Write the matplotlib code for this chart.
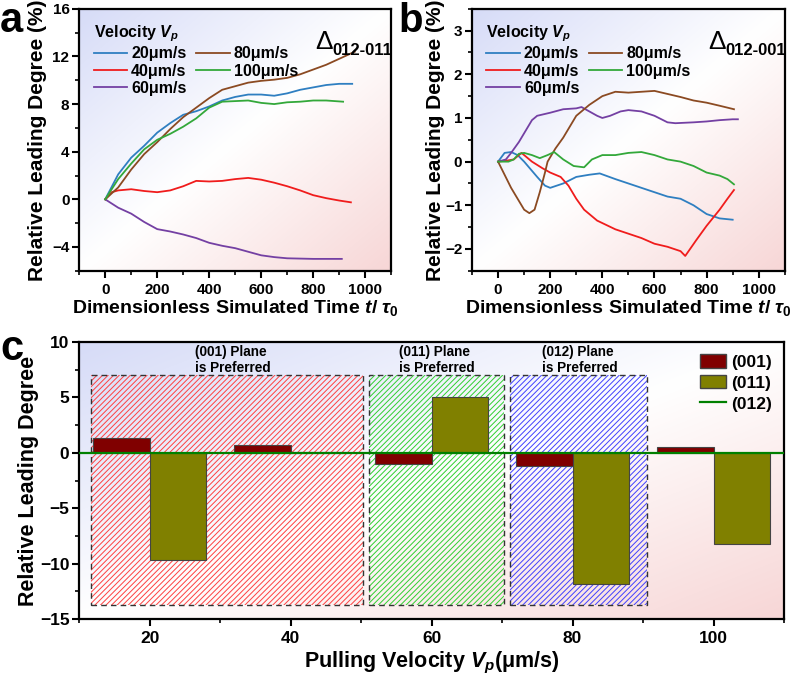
import numpy as np
import matplotlib
matplotlib.use("Agg")
import matplotlib.pyplot as plt
from matplotlib.patches import Rectangle, Patch
from matplotlib.lines import Line2D
from matplotlib.ticker import MultipleLocator

plt.rcParams["font.family"] = ["Liberation Sans", "DejaVu Sans"]
plt.rcParams["font.weight"] = "bold"
plt.rcParams["mathtext.fontset"] = "custom"
plt.rcParams["mathtext.rm"] = "Liberation Sans:bold"
plt.rcParams["mathtext.bf"] = "Liberation Sans:bold"
plt.rcParams["mathtext.it"] = "Liberation Sans:bold:italic"
plt.rcParams["hatch.linewidth"] = 0.7

# ---------------------------------------------------------------------------
# Data
# ---------------------------------------------------------------------------
labels_v = ["20μm/s", "40μm/s", "60μm/s", "80μm/s", "100μm/s"]
colors_v = ["#2f7fc1", "#f01c1c", "#7440a3", "#8b4a22", "#33a83a"]

# panel a : Delta 012-011
a20_x = [0, 50, 100, 150, 200, 250, 300, 350, 400, 450, 500, 550, 600, 650, 700, 750, 800, 850, 900, 950]
a20_y = [0, 2.1, 3.5, 4.5, 5.6, 6.4, 7.1, 7.4, 7.8, 8.3, 8.6, 8.8, 8.8, 8.7, 8.9, 9.2, 9.4, 9.6, 9.7, 9.7]
a40_x = [0, 25, 50, 100, 150, 200, 250, 300, 350, 400, 450, 500, 550, 600, 650, 700, 750, 800, 850, 900, 945]
a40_y = [0, 0.6, 0.75, 0.85, 0.7, 0.6, 0.75, 1.1, 1.55, 1.5, 1.55, 1.7, 1.8, 1.65, 1.4, 1.1, 0.75, 0.35, 0.1, -0.1, -0.25]
a60_x = [0, 50, 100, 150, 200, 250, 300, 350, 400, 450, 500, 550, 600, 650, 700, 800, 910]
a60_y = [0, -0.7, -1.2, -1.9, -2.5, -2.7, -2.95, -3.25, -3.65, -3.9, -4.1, -4.4, -4.7, -4.85, -4.95, -5.0, -5.0]
a80_x = [0, 50, 100, 150, 200, 250, 300, 350, 400, 450, 500, 550, 600, 650, 700, 750, 800, 850, 900, 960]
a80_y = [0, 1.0, 2.5, 3.8, 4.8, 5.9, 6.9, 7.7, 8.5, 9.2, 9.5, 9.8, 9.95, 10.05, 10.2, 10.5, 10.9, 11.3, 11.8, 12.4]
a100_x = [0, 50, 100, 150, 200, 250, 300, 350, 400, 450, 500, 550, 600, 650, 700, 750, 800, 850, 915]
a100_y = [0, 1.7, 3.0, 4.2, 5.0, 5.5, 6.1, 6.8, 7.7, 8.2, 8.25, 8.3, 8.1, 8.0, 8.15, 8.2, 8.3, 8.3, 8.2]

# panel b : Delta 012-001
b20_x = [0, 25, 50, 75, 100, 150, 180, 200, 250, 300, 350, 390, 450, 500, 550, 600, 650, 700, 750, 800, 850, 900]
b20_y = [0, 0.2, 0.22, 0.15, 0.0, -0.35, -0.55, -0.6, -0.5, -0.35, -0.3, -0.27, -0.4, -0.5, -0.6, -0.7, -0.8, -0.85, -1.0, -1.2, -1.3, -1.33]
b40_x = [0, 30, 60, 90, 130, 170, 200, 240, 270, 300, 330, 380, 450, 500, 550, 600, 650, 700, 718, 760, 800, 850, 880, 905]
b40_y = [0, 0.02, 0.05, 0.2, 0.0, -0.15, -0.25, -0.35, -0.55, -0.85, -1.1, -1.35, -1.55, -1.65, -1.75, -1.88, -1.95, -2.05, -2.16, -1.8, -1.47, -1.1, -0.85, -0.65]
b60_x = [0, 30, 50, 80, 100, 130, 150, 200, 250, 300, 320, 350, 380, 400, 430, 470, 500, 550, 600, 650, 680, 750, 800, 850, 900, 920]
b60_y = [0, 0.05, 0.2, 0.45, 0.65, 0.95, 1.05, 1.12, 1.2, 1.22, 1.25, 1.15, 1.05, 1.0, 1.05, 1.15, 1.18, 1.15, 1.05, 0.9, 0.88, 0.9, 0.92, 0.95, 0.97, 0.97]
b80_x = [0, 25, 50, 80, 100, 120, 140, 160, 180, 190, 220, 250, 300, 350, 400, 450, 500, 550, 600, 650, 700, 750, 800, 850, 905]
b80_y = [0, -0.3, -0.6, -0.9, -1.1, -1.18, -1.1, -0.7, -0.25, 0.0, 0.3, 0.55, 1.05, 1.3, 1.5, 1.6, 1.58, 1.6, 1.62, 1.55, 1.48, 1.4, 1.35, 1.28, 1.2]
b100_x = [0, 40, 60, 80, 100, 130, 160, 190, 215, 250, 290, 330, 360, 400, 450, 500, 550, 600, 650, 700, 750, 800, 850, 880, 905]
b100_y = [0, 0.0, 0.05, 0.18, 0.2, 0.15, 0.08, 0.15, 0.22, 0.05, -0.1, -0.13, 0.05, 0.15, 0.15, 0.2, 0.22, 0.15, 0.05, 0.0, -0.1, -0.25, -0.32, -0.4, -0.52]

# panel c : bars
velocity = [20, 40, 60, 80, 100]
lead_001 = [1.32, 0.67, -0.99, -1.23, 0.54]
lead_011 = [-9.64, 0.1, 5.07, -11.83, -8.22]

# preferred-plane regions: (x0, x1, y0, y1, colour, text, text x)
regions = [
    (11.7, 50.3, -13.7, 7.0, "#ff4040", "(001) Plane\nis Preferred", 26.4),
    (51.1, 70.3, -13.7, 7.0, "#30d030", "(011) Plane\nis Preferred", 55.4),
    (71.1, 90.5, -13.7, 7.0, "#4040ff", "(012) Plane\nis Preferred", 75.6),
]


def gradient_bg(ax):
    n = 200
    xx, yy = np.meshgrid(np.linspace(0, 1, n), np.linspace(1, 0, n))
    t = (xx + (1 - yy)) / 2.0          # 0 top-left -> 1 bottom-right
    blue = np.array([0.84, 0.86, 0.97])
    white = np.array([1.0, 1.0, 1.0])
    pink = np.array([0.97, 0.84, 0.84])
    lo = np.clip(1 - t / 0.5, 0, 1)[..., None]
    hi = np.clip((t - 0.5) / 0.5, 0, 1)[..., None]
    mid = 1 - lo - hi
    img = lo * blue + mid * white + hi * pink
    ax.imshow(img, extent=[0, 1, 0, 1], transform=ax.transAxes,
              aspect="auto", zorder=0, interpolation="bilinear")


def style_axes(ax, size):
    for s in ax.spines.values():
        s.set_linewidth(1.6)
    ax.tick_params(which="major", direction="out", length=5, width=1.5, labelsize=size)
    ax.tick_params(which="minor", direction="out", length=3, width=1.2)
    ax.tick_params(axis="y", which="major", pad=2)
    for lab in ax.get_xticklabels() + ax.get_yticklabels():
        lab.set_fontweight("bold")


def delta_label(ax, sub):
    d = ax.text(0.755, 0.875, "Δ", transform=ax.transAxes, fontsize=19,
                fontweight="normal", ha="left", va="center", zorder=5)
    ax.annotate(sub, xy=(1.0, 0.12), xycoords=d, fontsize=12,
                fontweight="bold", ha="left", va="center", zorder=5)


fig = plt.figure(figsize=(8.0, 6.77), dpi=100)

ax_a = fig.add_axes([0.099, 0.600, 0.390, 0.387])
ax_b = fig.add_axes([0.590, 0.600, 0.391, 0.387])
ax_c = fig.add_axes([0.099, 0.0857, 0.881, 0.409])

series_a = [(a20_x, a20_y), (a40_x, a40_y), (a60_x, a60_y), (a80_x, a80_y), (a100_x, a100_y)]
series_b = [(b20_x, b20_y), (b40_x, b40_y), (b60_x, b60_y), (b80_x, b80_y), (b100_x, b100_y)]

for ax, series, ylim, major, minor, sub, ylx in [
    (ax_a, series_a, (-6, 16), 4, 2, "012-011", -0.135),
    (ax_b, series_b, (-2.5, 3.5), 1, 0.5, "012-001", -0.116),
]:
    gradient_bg(ax)
    for (xs, ys), lab, col in zip(series, labels_v, colors_v):
        ax.plot(xs, ys, color=col, lw=1.3, label=lab, zorder=3)
    ax.set_xlim(-100, 1100)
    ax.set_ylim(*ylim)
    ax.xaxis.set_major_locator(MultipleLocator(200))
    ax.xaxis.set_minor_locator(MultipleLocator(100))
    ax.yaxis.set_major_locator(MultipleLocator(major))
    ax.yaxis.set_minor_locator(MultipleLocator(minor))
    ax.set_xlabel(r"Dimensionless Simulated Time $t$/ $\tau_0$", fontsize=14,
                  fontweight="bold", labelpad=1)
    ax.set_ylabel("Relative Leading Degree (%)", fontsize=15, fontweight="bold",
                  va="center")
    ax.yaxis.set_label_coords(ylx, 0.5)
    style_axes(ax, 11)
    leg = ax.legend(ncol=2, loc="upper left", bbox_to_anchor=(0.0, 1.0),
                    frameon=False, fontsize=11.5, handlelength=2.1,
                    columnspacing=0.6, handletextpad=0.25, labelspacing=0.15,
                    title=r"Velocity $V_p$", title_fontsize=11.5,
                    alignment="left", borderaxespad=0.5)
    leg.get_title().set_fontweight("bold")
    for t in leg.get_texts():
        t.set_fontweight("bold")
    delta_label(ax, sub)

# ── panel c ────────────────────────────────────────────────────────────────
gradient_bg(ax_c)
for x0, x1, y0, y1, col, txt, tx in regions:
    ax_c.add_patch(Rectangle((x0, y0), x1 - x0, y1 - y0, facecolor="none",
                             edgecolor=col, hatch="//////", lw=0, zorder=1))
    ax_c.add_patch(Rectangle((x0, y0), x1 - x0, y1 - y0, facecolor="none",
                             edgecolor="#333333", ls=(0, (4, 3)), lw=1.0, zorder=2))
    ax_c.text(tx, 8.4, txt, fontsize=9.8, fontweight="bold", ha="left",
              va="center", linespacing=1.2, zorder=4)

vel = np.array(velocity)
ax_c.bar(vel - 4, lead_001, width=8, color="#800000", edgecolor="#444444",
         lw=0.8, zorder=3)
ax_c.bar(vel + 4, lead_011, width=8, color="#808000", edgecolor="#444444",
         lw=0.8, zorder=3)
ax_c.axhline(0, color="#008000", lw=1.6, zorder=4)

ax_c.set_xlim(10, 110)
ax_c.set_ylim(-15, 10)
ax_c.xaxis.set_major_locator(MultipleLocator(20))
ax_c.xaxis.set_minor_locator(MultipleLocator(10))
ax_c.yaxis.set_major_locator(MultipleLocator(5))
ax_c.yaxis.set_minor_locator(MultipleLocator(2.5))
ax_c.set_xlabel(r"Pulling Velocity $V_p$(μm/s)", fontsize=15.5, fontweight="bold",
                labelpad=3)
ax_c.set_ylabel("Relative Leading Degree", fontsize=15.5, fontweight="bold",
                va="center")
ax_c.yaxis.set_label_coords(-0.072, 0.5)
style_axes(ax_c, 12.5)

handles = [
    Patch(facecolor="#800000", edgecolor="#444444", label="(001)"),
    Patch(facecolor="#808000", edgecolor="#444444", label="(011)"),
    Line2D([0], [0], color="#008000", lw=1.6, label="(012)"),
]
leg_c = ax_c.legend(handles=handles, loc="upper right", frameon=False,
                    fontsize=12.5, handlelength=1.5, handleheight=0.8,
                    handletextpad=0.3, labelspacing=0.3, borderaxespad=0.3)
for t in leg_c.get_texts():
    t.set_fontweight("bold")

# panel letters
fig.text(0.0, 0.953, "a", fontsize=30, fontweight="bold", va="baseline", ha="left")
fig.text(0.498, 0.953, "b", fontsize=29, fontweight="bold", va="baseline", ha="left")
fig.text(0.0, 0.468, "c", fontsize=30, fontweight="bold", va="baseline", ha="left")

fig.savefig("out.png", dpi=100)
